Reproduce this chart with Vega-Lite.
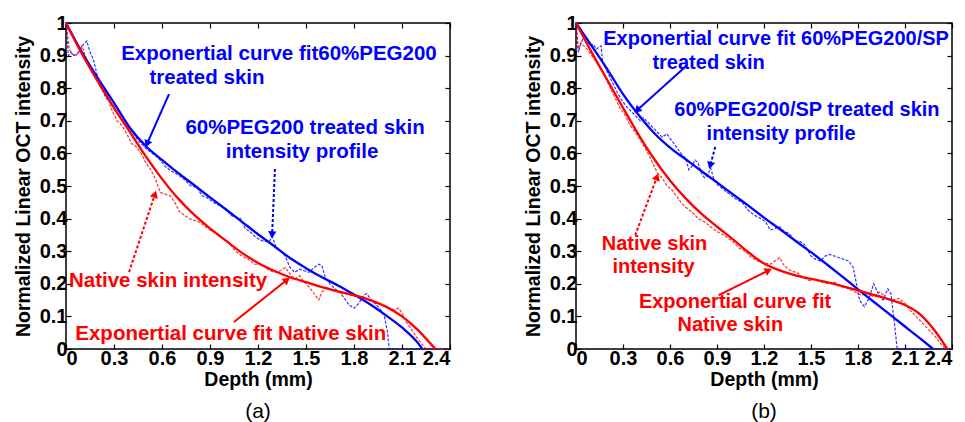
{
  "$schema": "https://vega.github.io/schema/vega-lite/v6.json",
  "background": "white",
  "padding": {"left": 12, "top": 12, "right": 5, "bottom": 0},
  "spacing": 68,
  "config": {
    "view": {"stroke": "black", "strokeWidth": 1.5},
    "axis": {
      "labelFont": "Liberation Sans", "labelFontWeight": "bold", "labelFontSize": 20, "labelColor": "black",
      "titleFont": "Liberation Sans", "titleFontWeight": "bold", "titleFontSize": 19.5, "titleColor": "black",
      "tickSize": -5, "tickColor": "black", "tickWidth": 1.2, "domain": false, "grid": false, "labelPadding": 4, "format": "~g"
    },
    "title": {"font": "Liberation Sans", "fontWeight": "normal", "fontSize": 21, "color": "black"}
  },
  "datasets": {
    "a_prof": [
      {"g":"T","x":0,"y":1.0},{"g":"T","x":0.015,"y":0.9},{"g":"T","x":0.03,"y":0.91},{"g":"T","x":0.05,"y":0.9},{"g":"T","x":0.07,"y":0.905},{"g":"T","x":0.09,"y":0.92},{"g":"T","x":0.11,"y":0.935},{"g":"T","x":0.13,"y":0.945},{"g":"T","x":0.15,"y":0.91},{"g":"T","x":0.17,"y":0.89},{"g":"T","x":0.19,"y":0.85},{"g":"T","x":0.21,"y":0.81},{"g":"T","x":0.23,"y":0.79},{"g":"T","x":0.25,"y":0.77},{"g":"T","x":0.27,"y":0.76},{"g":"T","x":0.29,"y":0.75},{"g":"T","x":0.31,"y":0.73},{"g":"T","x":0.34,"y":0.71},{"g":"T","x":0.37,"y":0.69},{"g":"T","x":0.4,"y":0.675},{"g":"T","x":0.43,"y":0.655},{"g":"T","x":0.46,"y":0.635},{"g":"T","x":0.5,"y":0.615},{"g":"T","x":0.54,"y":0.6},{"g":"T","x":0.58,"y":0.585},{"g":"T","x":0.62,"y":0.56},{"g":"T","x":0.66,"y":0.545},{"g":"T","x":0.7,"y":0.535},{"g":"T","x":0.74,"y":0.52},{"g":"T","x":0.78,"y":0.5},{"g":"T","x":0.82,"y":0.495},{"g":"T","x":0.85,"y":0.47},{"g":"T","x":0.88,"y":0.465},{"g":"T","x":0.92,"y":0.45},{"g":"T","x":0.96,"y":0.44},{"g":"T","x":1.0,"y":0.43},{"g":"T","x":1.03,"y":0.41},{"g":"T","x":1.06,"y":0.405},{"g":"T","x":1.09,"y":0.4},{"g":"T","x":1.12,"y":0.37},{"g":"T","x":1.15,"y":0.36},{"g":"T","x":1.18,"y":0.345},{"g":"T","x":1.21,"y":0.335},{"g":"T","x":1.24,"y":0.33},{"g":"T","x":1.27,"y":0.33},{"g":"T","x":1.29,"y":0.345},{"g":"T","x":1.31,"y":0.315},{"g":"T","x":1.34,"y":0.3},{"g":"T","x":1.37,"y":0.285},{"g":"T","x":1.4,"y":0.25},{"g":"T","x":1.43,"y":0.235},{"g":"T","x":1.46,"y":0.245},{"g":"T","x":1.49,"y":0.24},{"g":"T","x":1.52,"y":0.235},{"g":"T","x":1.55,"y":0.25},{"g":"T","x":1.58,"y":0.26},{"g":"T","x":1.6,"y":0.255},{"g":"T","x":1.62,"y":0.22},{"g":"T","x":1.65,"y":0.2},{"g":"T","x":1.68,"y":0.185},{"g":"T","x":1.71,"y":0.175},{"g":"T","x":1.74,"y":0.155},{"g":"T","x":1.77,"y":0.135},{"g":"T","x":1.8,"y":0.125},{"g":"T","x":1.83,"y":0.14},{"g":"T","x":1.86,"y":0.165},{"g":"T","x":1.88,"y":0.17},{"g":"T","x":1.9,"y":0.155},{"g":"T","x":1.93,"y":0.14},{"g":"T","x":1.96,"y":0.125},{"g":"T","x":1.99,"y":0.1},{"g":"T","x":2.01,"y":0.05},{"g":"T","x":2.02,"y":0},{"g":"T","x":2.4,"y":0},
      {"g":"N","x":0,"y":1.0},{"g":"N","x":0.02,"y":0.92},{"g":"N","x":0.04,"y":0.905},{"g":"N","x":0.06,"y":0.9},{"g":"N","x":0.08,"y":0.91},{"g":"N","x":0.1,"y":0.93},{"g":"N","x":0.12,"y":0.9},{"g":"N","x":0.14,"y":0.87},{"g":"N","x":0.16,"y":0.86},{"g":"N","x":0.18,"y":0.84},{"g":"N","x":0.2,"y":0.82},{"g":"N","x":0.22,"y":0.8},{"g":"N","x":0.24,"y":0.79},{"g":"N","x":0.26,"y":0.775},{"g":"N","x":0.28,"y":0.74},{"g":"N","x":0.3,"y":0.72},{"g":"N","x":0.32,"y":0.7},{"g":"N","x":0.35,"y":0.685},{"g":"N","x":0.38,"y":0.66},{"g":"N","x":0.41,"y":0.63},{"g":"N","x":0.44,"y":0.62},{"g":"N","x":0.47,"y":0.6},{"g":"N","x":0.5,"y":0.57},{"g":"N","x":0.53,"y":0.55},{"g":"N","x":0.56,"y":0.52},{"g":"N","x":0.59,"y":0.48},{"g":"N","x":0.62,"y":0.475},{"g":"N","x":0.65,"y":0.47},{"g":"N","x":0.68,"y":0.45},{"g":"N","x":0.71,"y":0.42},{"g":"N","x":0.74,"y":0.41},{"g":"N","x":0.77,"y":0.4},{"g":"N","x":0.8,"y":0.395},{"g":"N","x":0.83,"y":0.39},{"g":"N","x":0.86,"y":0.38},{"g":"N","x":0.9,"y":0.365},{"g":"N","x":0.94,"y":0.355},{"g":"N","x":0.98,"y":0.34},{"g":"N","x":1.02,"y":0.325},{"g":"N","x":1.06,"y":0.3},{"g":"N","x":1.1,"y":0.285},{"g":"N","x":1.14,"y":0.275},{"g":"N","x":1.18,"y":0.26},{"g":"N","x":1.22,"y":0.26},{"g":"N","x":1.26,"y":0.245},{"g":"N","x":1.3,"y":0.235},{"g":"N","x":1.34,"y":0.24},{"g":"N","x":1.37,"y":0.25},{"g":"N","x":1.4,"y":0.23},{"g":"N","x":1.43,"y":0.215},{"g":"N","x":1.46,"y":0.225},{"g":"N","x":1.49,"y":0.205},{"g":"N","x":1.52,"y":0.19},{"g":"N","x":1.55,"y":0.17},{"g":"N","x":1.58,"y":0.15},{"g":"N","x":1.6,"y":0.175},{"g":"N","x":1.63,"y":0.19},{"g":"N","x":1.66,"y":0.18},{"g":"N","x":1.7,"y":0.175},{"g":"N","x":1.74,"y":0.17},{"g":"N","x":1.78,"y":0.165},{"g":"N","x":1.82,"y":0.16},{"g":"N","x":1.86,"y":0.155},{"g":"N","x":1.9,"y":0.15},{"g":"N","x":1.94,"y":0.14},{"g":"N","x":1.98,"y":0.135},{"g":"N","x":2.02,"y":0.125},{"g":"N","x":2.05,"y":0.12},{"g":"N","x":2.08,"y":0.125},{"g":"N","x":2.1,"y":0.11},{"g":"N","x":2.13,"y":0.08},{"g":"N","x":2.16,"y":0.06},{"g":"N","x":2.2,"y":0.03},{"g":"N","x":2.25,"y":0},{"g":"N","x":2.4,"y":0}
    ],
    "a_fit": [
      {"g":"T","x":0,"y":1.0},{"g":"T","x":0.1,"y":0.91},{"g":"T","x":0.2,"y":0.83},{"g":"T","x":0.3,"y":0.755},{"g":"T","x":0.4,"y":0.678},{"g":"T","x":0.5,"y":0.622},{"g":"T","x":0.6,"y":0.58},{"g":"T","x":0.7,"y":0.54},{"g":"T","x":0.8,"y":0.503},{"g":"T","x":0.9,"y":0.465},{"g":"T","x":1.0,"y":0.428},{"g":"T","x":1.1,"y":0.39},{"g":"T","x":1.2,"y":0.352},{"g":"T","x":1.3,"y":0.316},{"g":"T","x":1.4,"y":0.279},{"g":"T","x":1.5,"y":0.248},{"g":"T","x":1.6,"y":0.22},{"g":"T","x":1.7,"y":0.195},{"g":"T","x":1.8,"y":0.167},{"g":"T","x":1.9,"y":0.137},{"g":"T","x":2.0,"y":0.103},{"g":"T","x":2.1,"y":0.066},{"g":"T","x":2.2,"y":0.018},{"g":"T","x":2.227,"y":0},
      {"g":"N","x":0,"y":1.0},{"g":"N","x":0.1,"y":0.905},{"g":"N","x":0.2,"y":0.82},{"g":"N","x":0.3,"y":0.74},{"g":"N","x":0.4,"y":0.665},{"g":"N","x":0.5,"y":0.59},{"g":"N","x":0.6,"y":0.522},{"g":"N","x":0.7,"y":0.462},{"g":"N","x":0.8,"y":0.412},{"g":"N","x":0.9,"y":0.37},{"g":"N","x":1.0,"y":0.332},{"g":"N","x":1.1,"y":0.295},{"g":"N","x":1.2,"y":0.264},{"g":"N","x":1.3,"y":0.24},{"g":"N","x":1.4,"y":0.22},{"g":"N","x":1.5,"y":0.205},{"g":"N","x":1.6,"y":0.19},{"g":"N","x":1.7,"y":0.177},{"g":"N","x":1.8,"y":0.165},{"g":"N","x":1.9,"y":0.15},{"g":"N","x":2.0,"y":0.13},{"g":"N","x":2.1,"y":0.1},{"g":"N","x":2.2,"y":0.058},{"g":"N","x":2.3,"y":0.005},{"g":"N","x":2.31,"y":0}
    ],
    "a_text": [
      {"x":1.331,"y":0.905,"t":"Exponertial curve fit60%PEG200","g":"T"},
      {"x":0.881,"y":0.831,"t":"treated skin","g":"T"},
      {"x":1.494,"y":0.678,"t":"60%PEG200 treated skin","g":"T"},
      {"x":1.475,"y":0.604,"t":"intensity profile","g":"T"},
      {"x":0.638,"y":0.208,"t":"Native skin intensity","g":"N"},
      {"x":1.03,"y":0.046,"t":"Exponertial curve fit Native skin","g":"N"}
    ],
    "a_arrow": [
      {"x":0.644,"y":0.782,"x2":0.506,"y2":0.629,"g":"T","k":"solid","ang":204},
      {"x":1.306,"y":0.552,"x2":1.288,"y2":0.35,"g":"T","k":"dotted","ang":183},
      {"x":0.394,"y":0.236,"x2":0.556,"y2":0.475,"g":"N","k":"dotted","ang":18},
      {"x":1.05,"y":0.083,"x2":1.381,"y2":0.212,"g":"N","k":"solid","ang":52}
    ],
    "b_prof": [
      {"g":"T","x":0,"y":1.0},{"g":"T","x":0.015,"y":0.91},{"g":"T","x":0.03,"y":0.935},{"g":"T","x":0.05,"y":0.96},{"g":"T","x":0.07,"y":0.95},{"g":"T","x":0.09,"y":0.93},{"g":"T","x":0.11,"y":0.935},{"g":"T","x":0.13,"y":0.92},{"g":"T","x":0.16,"y":0.93},{"g":"T","x":0.17,"y":0.88},{"g":"T","x":0.2,"y":0.85},{"g":"T","x":0.23,"y":0.82},{"g":"T","x":0.26,"y":0.79},{"g":"T","x":0.29,"y":0.765},{"g":"T","x":0.32,"y":0.745},{"g":"T","x":0.35,"y":0.73},{"g":"T","x":0.38,"y":0.715},{"g":"T","x":0.41,"y":0.7},{"g":"T","x":0.43,"y":0.71},{"g":"T","x":0.46,"y":0.695},{"g":"T","x":0.49,"y":0.68},{"g":"T","x":0.52,"y":0.665},{"g":"T","x":0.55,"y":0.65},{"g":"T","x":0.58,"y":0.66},{"g":"T","x":0.61,"y":0.64},{"g":"T","x":0.64,"y":0.62},{"g":"T","x":0.67,"y":0.6},{"g":"T","x":0.7,"y":0.585},{"g":"T","x":0.72,"y":0.55},{"g":"T","x":0.74,"y":0.56},{"g":"T","x":0.76,"y":0.58},{"g":"T","x":0.78,"y":0.57},{"g":"T","x":0.8,"y":0.54},{"g":"T","x":0.82,"y":0.525},{"g":"T","x":0.84,"y":0.535},{"g":"T","x":0.86,"y":0.555},{"g":"T","x":0.88,"y":0.52},{"g":"T","x":0.9,"y":0.505},{"g":"T","x":0.94,"y":0.49},{"g":"T","x":0.98,"y":0.475},{"g":"T","x":1.02,"y":0.46},{"g":"T","x":1.06,"y":0.45},{"g":"T","x":1.1,"y":0.425},{"g":"T","x":1.14,"y":0.41},{"g":"T","x":1.18,"y":0.4},{"g":"T","x":1.21,"y":0.39},{"g":"T","x":1.24,"y":0.365},{"g":"T","x":1.27,"y":0.37},{"g":"T","x":1.3,"y":0.375},{"g":"T","x":1.33,"y":0.36},{"g":"T","x":1.36,"y":0.355},{"g":"T","x":1.4,"y":0.33},{"g":"T","x":1.43,"y":0.33},{"g":"T","x":1.46,"y":0.32},{"g":"T","x":1.5,"y":0.285},{"g":"T","x":1.53,"y":0.275},{"g":"T","x":1.56,"y":0.27},{"g":"T","x":1.59,"y":0.285},{"g":"T","x":1.62,"y":0.29},{"g":"T","x":1.65,"y":0.285},{"g":"T","x":1.68,"y":0.28},{"g":"T","x":1.71,"y":0.275},{"g":"T","x":1.74,"y":0.27},{"g":"T","x":1.77,"y":0.25},{"g":"T","x":1.79,"y":0.2},{"g":"T","x":1.81,"y":0.15},{"g":"T","x":1.84,"y":0.13},{"g":"T","x":1.87,"y":0.155},{"g":"T","x":1.9,"y":0.2},{"g":"T","x":1.93,"y":0.17},{"g":"T","x":1.96,"y":0.15},{"g":"T","x":1.99,"y":0.185},{"g":"T","x":2.01,"y":0.17},{"g":"T","x":2.03,"y":0.09},{"g":"T","x":2.05,"y":0},{"g":"T","x":2.4,"y":0},
      {"g":"N","x":0,"y":1.0},{"g":"N","x":0.015,"y":0.92},{"g":"N","x":0.03,"y":0.94},{"g":"N","x":0.05,"y":0.93},{"g":"N","x":0.07,"y":0.92},{"g":"N","x":0.1,"y":0.9},{"g":"N","x":0.13,"y":0.88},{"g":"N","x":0.16,"y":0.86},{"g":"N","x":0.19,"y":0.83},{"g":"N","x":0.22,"y":0.8},{"g":"N","x":0.25,"y":0.77},{"g":"N","x":0.28,"y":0.74},{"g":"N","x":0.31,"y":0.72},{"g":"N","x":0.34,"y":0.69},{"g":"N","x":0.37,"y":0.67},{"g":"N","x":0.4,"y":0.65},{"g":"N","x":0.43,"y":0.625},{"g":"N","x":0.46,"y":0.6},{"g":"N","x":0.49,"y":0.57},{"g":"N","x":0.52,"y":0.54},{"g":"N","x":0.55,"y":0.525},{"g":"N","x":0.58,"y":0.5},{"g":"N","x":0.61,"y":0.49},{"g":"N","x":0.64,"y":0.47},{"g":"N","x":0.67,"y":0.45},{"g":"N","x":0.7,"y":0.435},{"g":"N","x":0.74,"y":0.42},{"g":"N","x":0.78,"y":0.4},{"g":"N","x":0.82,"y":0.39},{"g":"N","x":0.86,"y":0.375},{"g":"N","x":0.9,"y":0.36},{"g":"N","x":0.94,"y":0.35},{"g":"N","x":0.97,"y":0.34},{"g":"N","x":1.0,"y":0.33},{"g":"N","x":1.04,"y":0.31},{"g":"N","x":1.08,"y":0.3},{"g":"N","x":1.12,"y":0.28},{"g":"N","x":1.16,"y":0.27},{"g":"N","x":1.2,"y":0.265},{"g":"N","x":1.24,"y":0.26},{"g":"N","x":1.27,"y":0.27},{"g":"N","x":1.3,"y":0.28},{"g":"N","x":1.33,"y":0.255},{"g":"N","x":1.37,"y":0.24},{"g":"N","x":1.41,"y":0.235},{"g":"N","x":1.45,"y":0.22},{"g":"N","x":1.49,"y":0.21},{"g":"N","x":1.53,"y":0.215},{"g":"N","x":1.57,"y":0.205},{"g":"N","x":1.61,"y":0.2},{"g":"N","x":1.65,"y":0.205},{"g":"N","x":1.7,"y":0.19},{"g":"N","x":1.74,"y":0.185},{"g":"N","x":1.78,"y":0.175},{"g":"N","x":1.82,"y":0.165},{"g":"N","x":1.86,"y":0.17},{"g":"N","x":1.9,"y":0.16},{"g":"N","x":1.94,"y":0.175},{"g":"N","x":1.98,"y":0.155},{"g":"N","x":2.02,"y":0.15},{"g":"N","x":2.06,"y":0.155},{"g":"N","x":2.1,"y":0.14},{"g":"N","x":2.13,"y":0.12},{"g":"N","x":2.17,"y":0.1},{"g":"N","x":2.21,"y":0.08},{"g":"N","x":2.25,"y":0.06},{"g":"N","x":2.29,"y":0.04},{"g":"N","x":2.33,"y":0.015},{"g":"N","x":2.36,"y":0},{"g":"N","x":2.4,"y":0}
    ],
    "b_fit": [
      {"g":"T","x":0,"y":1.0},{"g":"T","x":0.1,"y":0.93},{"g":"T","x":0.2,"y":0.858},{"g":"T","x":0.3,"y":0.782},{"g":"T","x":0.4,"y":0.718},{"g":"T","x":0.5,"y":0.662},{"g":"T","x":0.6,"y":0.618},{"g":"T","x":0.7,"y":0.582},{"g":"T","x":0.8,"y":0.546},{"g":"T","x":0.9,"y":0.511},{"g":"T","x":1.0,"y":0.475},{"g":"T","x":1.1,"y":0.44},{"g":"T","x":1.2,"y":0.403},{"g":"T","x":1.3,"y":0.368},{"g":"T","x":1.4,"y":0.332},{"g":"T","x":1.5,"y":0.297},{"g":"T","x":1.6,"y":0.26},{"g":"T","x":1.7,"y":0.222},{"g":"T","x":1.8,"y":0.183},{"g":"T","x":1.9,"y":0.145},{"g":"T","x":2.0,"y":0.107},{"g":"T","x":2.1,"y":0.069},{"g":"T","x":2.2,"y":0.031},{"g":"T","x":2.28,"y":0},
      {"g":"N","x":0,"y":1.0},{"g":"N","x":0.1,"y":0.91},{"g":"N","x":0.2,"y":0.825},{"g":"N","x":0.3,"y":0.74},{"g":"N","x":0.4,"y":0.657},{"g":"N","x":0.5,"y":0.582},{"g":"N","x":0.6,"y":0.517},{"g":"N","x":0.7,"y":0.462},{"g":"N","x":0.8,"y":0.415},{"g":"N","x":0.9,"y":0.375},{"g":"N","x":1.0,"y":0.337},{"g":"N","x":1.1,"y":0.297},{"g":"N","x":1.2,"y":0.262},{"g":"N","x":1.3,"y":0.241},{"g":"N","x":1.4,"y":0.226},{"g":"N","x":1.5,"y":0.215},{"g":"N","x":1.6,"y":0.205},{"g":"N","x":1.7,"y":0.193},{"g":"N","x":1.8,"y":0.18},{"g":"N","x":1.9,"y":0.166},{"g":"N","x":2.0,"y":0.152},{"g":"N","x":2.1,"y":0.135},{"g":"N","x":2.2,"y":0.105},{"g":"N","x":2.3,"y":0.05},{"g":"N","x":2.37,"y":0}
    ],
    "b_text": [
      {"x":1.277,"y":0.952,"t":"Exponertial curve fit 60%PEG200/SP","g":"T"},
      {"x":0.846,"y":0.878,"t":"treated skin","g":"T"},
      {"x":1.474,"y":0.732,"t":"60%PEG200/SP treated skin","g":"T"},
      {"x":1.309,"y":0.66,"t":"intensity profile","g":"T"},
      {"x":0.501,"y":0.323,"t":"Native skin","g":"N"},
      {"x":0.495,"y":0.252,"t":"intensity","g":"N"},
      {"x":1.015,"y":0.144,"t":"Exponertial curve fit","g":"N"},
      {"x":0.985,"y":0.073,"t":"Native skin","g":"N"}
    ],
    "b_arrow": [
      {"x":0.708,"y":0.87,"x2":0.389,"y2":0.732,"g":"T","k":"solid","ang":228},
      {"x":0.889,"y":0.62,"x2":0.857,"y2":0.563,"g":"T","k":"dotted","ang":195},
      {"x":0.378,"y":0.349,"x2":0.517,"y2":0.528,"g":"N","k":"dotted","ang":20},
      {"x":0.91,"y":0.165,"x2":1.229,"y2":0.241,"g":"N","k":"solid","ang":63}
    ]
  },
  "hconcat": [
    {
      "width": 384, "height": 326,
      "title": {"text": "(a)", "orient": "bottom", "offset": 12},
      "resolve": {"axis": {"x": "independent", "y": "independent"}},
      "layer": [
        {
          "data": {"name": "a_prof"},
          "mark": {"type": "line", "strokeWidth": 1.2, "opacity": 0.8, "strokeDash": [3, 1.5]},
          "encoding": {
            "x": {"field": "x", "type": "quantitative", "scale": {"domain": [0, 2.4], "nice": false, "zero": false}, "axis": {"title": "Depth (mm)", "values": [0, 0.3, 0.6, 0.9, 1.2, 1.5, 1.8, 2.1, 2.4], "titlePadding": 2}},
            "y": {"field": "y", "type": "quantitative", "scale": {"domain": [0, 1], "nice": false}, "axis": {"title": "Normalized Linear OCT intensity", "values": [0, 0.1, 0.2, 0.3, 0.4, 0.5, 0.6, 0.7, 0.8, 0.9, 1], "titlePadding": 6}},
            "color": {"field": "g", "type": "nominal", "scale": {"domain": ["T", "N"], "range": ["#0000ff", "#ff0000"]}, "legend": null}
          }
        },
        {
          "data": {"name": "a_fit"},
          "mark": {"type": "line", "strokeWidth": 2.3, "interpolate": "monotone"},
          "encoding": {
            "x": {"field": "x", "type": "quantitative", "axis": {"orient": "top", "labels": false, "title": null, "values": [0, 0.3, 0.6, 0.9, 1.2, 1.5, 1.8, 2.1, 2.4]}},
            "y": {"field": "y", "type": "quantitative", "axis": {"orient": "right", "labels": false, "title": null, "values": [0, 0.1, 0.2, 0.3, 0.4, 0.5, 0.6, 0.7, 0.8, 0.9, 1]}},
            "color": {"field": "g", "type": "nominal", "legend": null}
          }
        },
        {
          "data": {"name": "a_arrow"},
          "mark": {"type": "rule", "strokeWidth": 2},
          "encoding": {
            "x": {"field": "x", "type": "quantitative", "axis": null},
            "y": {"field": "y", "type": "quantitative", "axis": null},
            "x2": {"field": "x2"},
            "y2": {"field": "y2"},
            "color": {"field": "g", "type": "nominal", "legend": null},
            "strokeDash": {"field": "k", "type": "nominal", "scale": {"domain": ["solid", "dotted"], "range": [[1, 0], [3, 2]]}, "legend": null}
          }
        },
        {
          "data": {"name": "a_arrow"},
          "mark": {"type": "point", "shape": "triangle-up", "filled": true, "size": 70, "opacity": 1},
          "encoding": {
            "x": {"field": "x2", "type": "quantitative", "axis": null},
            "y": {"field": "y2", "type": "quantitative", "axis": null},
            "angle": {"field": "ang", "type": "quantitative", "scale": null},
            "color": {"field": "g", "type": "nominal", "legend": null}
          }
        },
        {
          "data": {"name": "a_text"},
          "mark": {"type": "text", "align": "center", "baseline": "middle", "font": "Liberation Sans", "fontWeight": "bold", "fontSize": 20.5},
          "encoding": {
            "x": {"field": "x", "type": "quantitative", "axis": null},
            "y": {"field": "y", "type": "quantitative", "axis": null},
            "text": {"field": "t"},
            "color": {"field": "g", "type": "nominal", "legend": null}
          }
        }
      ]
    },
    {
      "width": 376, "height": 326,
      "title": {"text": "(b)", "orient": "bottom", "offset": 12},
      "resolve": {"axis": {"x": "independent", "y": "independent"}},
      "layer": [
        {
          "data": {"name": "b_prof"},
          "mark": {"type": "line", "strokeWidth": 1.2, "opacity": 0.8, "strokeDash": [3, 1.5]},
          "encoding": {
            "x": {"field": "x", "type": "quantitative", "scale": {"domain": [0, 2.4], "nice": false, "zero": false}, "axis": {"title": "Depth (mm)", "values": [0, 0.3, 0.6, 0.9, 1.2, 1.5, 1.8, 2.1, 2.4], "titlePadding": 2}},
            "y": {"field": "y", "type": "quantitative", "scale": {"domain": [0, 1], "nice": false}, "axis": {"title": "Normalized Linear OCT intensity", "values": [0, 0.1, 0.2, 0.3, 0.4, 0.5, 0.6, 0.7, 0.8, 0.9, 1], "titlePadding": 6}},
            "color": {"field": "g", "type": "nominal", "scale": {"domain": ["T", "N"], "range": ["#0000ff", "#ff0000"]}, "legend": null}
          }
        },
        {
          "data": {"name": "b_fit"},
          "mark": {"type": "line", "strokeWidth": 2.3, "interpolate": "monotone"},
          "encoding": {
            "x": {"field": "x", "type": "quantitative", "axis": {"orient": "top", "labels": false, "title": null, "values": [0, 0.3, 0.6, 0.9, 1.2, 1.5, 1.8, 2.1, 2.4]}},
            "y": {"field": "y", "type": "quantitative", "axis": {"orient": "right", "labels": false, "title": null, "values": [0, 0.1, 0.2, 0.3, 0.4, 0.5, 0.6, 0.7, 0.8, 0.9, 1]}},
            "color": {"field": "g", "type": "nominal", "legend": null}
          }
        },
        {
          "data": {"name": "b_arrow"},
          "mark": {"type": "rule", "strokeWidth": 2},
          "encoding": {
            "x": {"field": "x", "type": "quantitative", "axis": null},
            "y": {"field": "y", "type": "quantitative", "axis": null},
            "x2": {"field": "x2"},
            "y2": {"field": "y2"},
            "color": {"field": "g", "type": "nominal", "legend": null},
            "strokeDash": {"field": "k", "type": "nominal", "scale": {"domain": ["solid", "dotted"], "range": [[1, 0], [3, 2]]}, "legend": null}
          }
        },
        {
          "data": {"name": "b_arrow"},
          "mark": {"type": "point", "shape": "triangle-up", "filled": true, "size": 70, "opacity": 1},
          "encoding": {
            "x": {"field": "x2", "type": "quantitative", "axis": null},
            "y": {"field": "y2", "type": "quantitative", "axis": null},
            "angle": {"field": "ang", "type": "quantitative", "scale": null},
            "color": {"field": "g", "type": "nominal", "legend": null}
          }
        },
        {
          "data": {"name": "b_text"},
          "mark": {"type": "text", "align": "center", "baseline": "middle", "font": "Liberation Sans", "fontWeight": "bold", "fontSize": 20},
          "encoding": {
            "x": {"field": "x", "type": "quantitative", "axis": null},
            "y": {"field": "y", "type": "quantitative", "axis": null},
            "text": {"field": "t"},
            "color": {"field": "g", "type": "nominal", "legend": null}
          }
        }
      ]
    }
  ]
}
